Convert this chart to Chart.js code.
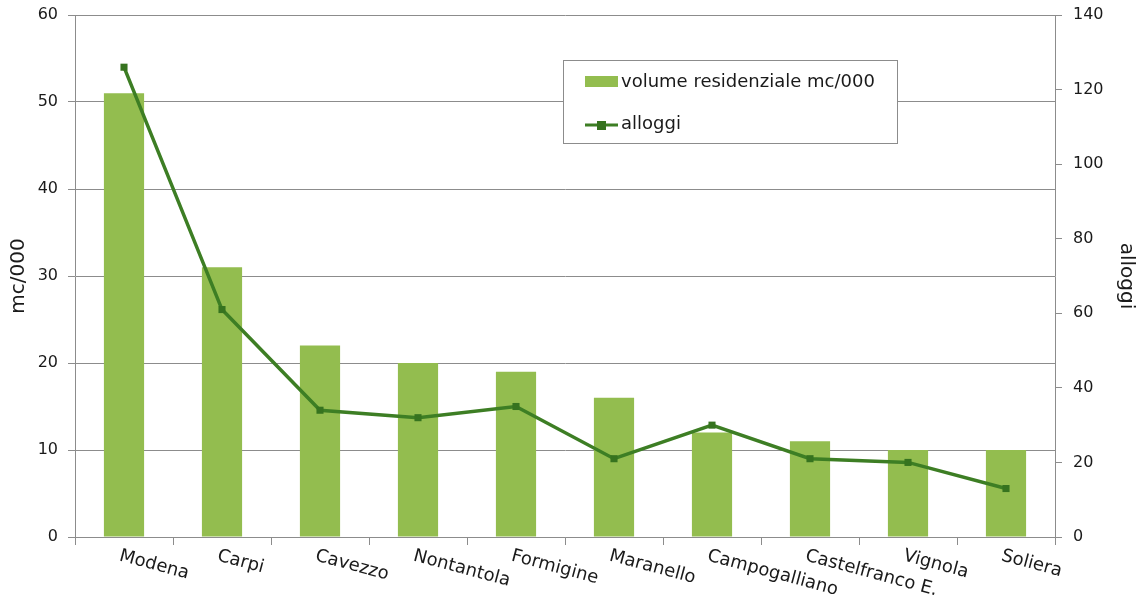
<!DOCTYPE html>
<html>
<head>
<meta charset="utf-8">
<script src="https://cdn.jsdelivr.net/npm/chart.js@4.4.1/dist/chart.umd.min.js"></script>
<style>
  html, body { margin: 0; padding: 0; background: #ffffff; }
  #wrap { width: 1142px; height: 598px; position: relative; }
</style>
</head>
<body>
<div id="wrap"><canvas id="c" width="1142" height="598"></canvas></div>
<script>
const categories = ["Modena", "Carpi", "Cavezzo", "Nontantola", "Formigine", "Maranello", "Campogalliano", "Castelfranco E.", "Vignola", "Soliera"];
const volumeValues = [51, 31, 22, 20, 19, 16, 12, 11, 10, 10];
const alloggiValues = [126, 61, 34, 32, 35, 21, 30, 21, 20, 13];
const seriesLabels = ["volume residenziale mc/000", "alloggi"];
const axisTitles = ["mc/000", "alloggi"];

const FONT = "'DejaVu Sans', Verdana, sans-serif";
const BAR_COLOR = '#93BD4F';
const LINE_COLOR = '#3D7E24';
const MARK_COLOR = '#36731F';
const GRID = '#8C8C8C';
const TEXT = '#1a1a1a';

const xLabelPlugin = {
  id: 'xLabels',
  afterDraw(chart) {
    const ctx = chart.ctx;
    const xs = chart.scales.x;
    ctx.save();
    ctx.font = '18px ' + FONT;
    ctx.fillStyle = TEXT;
    ctx.textAlign = 'left';
    ctx.textBaseline = 'top';
    categories.forEach((lab, i) => {
      const x = xs.getPixelForValue(i);
      ctx.save();
      ctx.translate(x - 2, xs.top + 10);
      ctx.rotate(15 * Math.PI / 180);
      ctx.fillText(lab, 0, 0);
      ctx.restore();
    });
    ctx.restore();
  }
};

const legendPlugin = {
  id: 'customLegend',
  afterDraw(chart) {
    const ctx = chart.ctx;
    ctx.save();
    const bx = 563.5, by = 60.5, bw = 334, bh = 83;
    ctx.fillStyle = '#ffffff';
    ctx.fillRect(bx, by, bw, bh);
    ctx.strokeStyle = '#8C8C8C';
    ctx.lineWidth = 1;
    ctx.strokeRect(bx, by, bw, bh);
    ctx.font = '18px ' + FONT;
    ctx.textAlign = 'left';
    ctx.textBaseline = 'middle';
    ctx.fillStyle = BAR_COLOR;
    ctx.fillRect(585, 76, 33, 11);
    ctx.fillStyle = TEXT;
    ctx.fillText(seriesLabels[0], 621, 82);
    ctx.strokeStyle = LINE_COLOR;
    ctx.lineWidth = 3;
    ctx.beginPath();
    ctx.moveTo(585, 125);
    ctx.lineTo(618, 125);
    ctx.stroke();
    ctx.fillStyle = MARK_COLOR;
    ctx.fillRect(597, 121, 9, 9);
    ctx.fillStyle = TEXT;
    ctx.fillText(seriesLabels[1], 621, 124);
    ctx.restore();
  }
};

function fixY(width) {
  return function (scale) {
    scale.width = width;
    scale.paddingTop = 0;
    scale.paddingBottom = 0;
  };
}

new Chart(document.getElementById('c'), {
  data: {
    labels: categories,
    datasets: [
      {
        type: 'line',
        label: seriesLabels[1],
        data: alloggiValues,
        yAxisID: 'y1',
        borderColor: LINE_COLOR,
        borderWidth: 3.5,
        backgroundColor: MARK_COLOR,
        pointStyle: 'rect',
        pointRadius: 5,
        pointBackgroundColor: MARK_COLOR,
        pointBorderColor: MARK_COLOR,
        pointBorderWidth: 0,
        tension: 0,
        order: 0
      },
      {
        type: 'bar',
        label: seriesLabels[0],
        data: volumeValues,
        yAxisID: 'y',
        backgroundColor: BAR_COLOR,
        borderWidth: 0,
        barPercentage: 0.41,
        categoryPercentage: 1.0,
        order: 1
      }
    ]
  },
  options: {
    responsive: false,
    animation: false,
    devicePixelRatio: 1,
    layout: { padding: { top: 15, left: 0, right: 0, bottom: 0 } },
    plugins: {
      legend: { display: false },
      tooltip: { enabled: false }
    },
    scales: {
      x: {
        type: 'category',
        offset: true,
        grid: { display: true, drawOnChartArea: false, drawTicks: true, tickLength: 8, color: GRID, offset: true },
        border: { display: true, color: GRID, width: 1 },
        ticks: { display: false },
        afterFit(scale) { scale.height = 61; scale.paddingLeft = 0; scale.paddingRight = 0; }
      },
      y: {
        type: 'linear',
        position: 'left',
        min: 0, max: 60,
        ticks: { stepSize: 10, color: TEXT, font: { family: FONT, size: 16 }, padding: 10 },
        grid: { color: GRID, tickLength: 7, drawTicks: true },
        border: { display: true, color: GRID, width: 1 },
        title: { display: true, text: axisTitles[0], color: TEXT, font: { family: FONT, size: 20 }, padding: { top: 7, bottom: 0 } },
        afterFit: fixY(75)
      },
      y1: {
        type: 'linear',
        position: 'right',
        min: 0, max: 140,
        ticks: { stepSize: 20, color: TEXT, font: { family: FONT, size: 16 }, padding: 11 },
        grid: { drawOnChartArea: false, color: GRID, tickLength: 7, drawTicks: true },
        border: { display: true, color: GRID, width: 1 },
        title: { display: true, text: axisTitles[1], color: TEXT, font: { family: FONT, size: 20 }, padding: { top: 4, bottom: 0 } },
        afterFit: fixY(87)
      }
    }
  },
  plugins: [xLabelPlugin, legendPlugin]
});
</script>
</body>
</html>
